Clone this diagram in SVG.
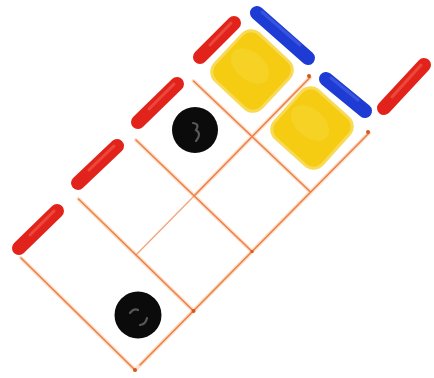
<svg xmlns="http://www.w3.org/2000/svg" width="434" height="378" viewBox="0 0 434 378">
<style>
.halo{stroke:#FCE1CC;stroke-width:4;fill:none;stroke-linecap:round}
.ln{stroke:#EE8048;stroke-width:1.6;fill:none;stroke-linecap:round}
.faint{stroke:#F4A57A;stroke-width:1.3;fill:none;stroke-linecap:round}
.dot{fill:#D2581E}
.red{stroke:#E2231B;stroke-width:14;stroke-linecap:round;fill:none}
.redhi{stroke:#F0584A;stroke-width:3;stroke-linecap:round;fill:none;opacity:0.7}
.blue{stroke:#1E3CD4;stroke-width:14;stroke-linecap:round;fill:none}
.bluehi{stroke:#4A64E6;stroke-width:3;stroke-linecap:round;fill:none;opacity:0.6}
.yel{fill:#F5CC12;stroke:#F8DA55;stroke-width:3}
.yelhi{fill:#F8D838;opacity:0.5}
.blk{fill:#0B0B0B}
.blkhi{stroke:#6A6A6A;stroke-width:2.2;fill:none;stroke-linecap:round;opacity:0.8}
</style>
<rect width="434" height="378" fill="#FFFFFF"/>
<g id="connectors">
  <g class="halo">
    <line x1="21" y1="258" x2="135" y2="370"/>
    <line x1="78.5" y1="199" x2="193.5" y2="311"/>
    <line x1="136" y1="140" x2="252" y2="251.5"/>
    <line x1="193.5" y1="81" x2="310.5" y2="192"/>
    <line x1="135" y1="370" x2="369" y2="133"/>
    <line x1="194" y1="196" x2="310" y2="77.5"/>
  </g>
  <line class="faint" x1="136" y1="255" x2="194" y2="196"/>
  <line class="ln" x1="194" y1="196" x2="310" y2="77.5"/>
  <line class="ln" x1="21" y1="258" x2="135" y2="370"/>
  <line class="ln" x1="78.5" y1="199" x2="193.5" y2="311"/>
  <line class="ln" x1="136" y1="140" x2="252" y2="251.5"/>
  <line class="ln" x1="193.5" y1="81" x2="310.5" y2="192"/>
  <line class="ln" x1="140" y1="365" x2="369" y2="133"/>
  <circle class="dot" cx="135" cy="370" r="2"/>
  <circle class="dot" cx="193.5" cy="311" r="2"/>
  <circle class="dot" cx="252" cy="251.5" r="1.6"/>
  <circle class="dot" cx="309" cy="76" r="2"/>
  <circle class="dot" cx="368" cy="132" r="2"/>
</g>
<g id="yellow1">
  <rect class="yel" x="-32" y="-32" width="64" height="64" rx="12" transform="translate(252,71) rotate(43)"/>
  <ellipse class="yelhi" cx="250" cy="66" rx="22" ry="14" transform="rotate(40 250 66)"/>
</g>
<g id="yellow2">
  <rect class="yel" x="-32" y="-32" width="64" height="64" rx="12" transform="translate(312,128) rotate(42)"/>
  <ellipse class="yelhi" cx="310" cy="123" rx="22" ry="14" transform="rotate(40 310 123)"/>
</g>
<g id="bar-red-1"><line class="red" x1="19" y1="248" x2="57" y2="211"/><line class="redhi" x1="30" y1="235" x2="54" y2="211"/></g>
<g id="bar-red-2"><line class="red" x1="78" y1="183" x2="117" y2="146"/><line class="redhi" x1="89" y1="170" x2="114" y2="146"/></g>
<g id="bar-red-3"><line class="red" x1="138" y1="122" x2="177" y2="84"/><line class="redhi" x1="149" y1="109" x2="174" y2="84"/></g>
<g id="bar-red-4"><line class="red" x1="200" y1="57" x2="234" y2="23"/><line class="redhi" x1="210" y1="45" x2="231" y2="23"/></g>
<g id="bar-blue-1"><line class="blue" x1="257" y1="13" x2="308" y2="58"/><line class="bluehi" x1="262" y1="12" x2="300" y2="45"/></g>
<g id="bar-blue-2"><line class="blue" x1="326" y1="79" x2="365" y2="111"/><line class="bluehi" x1="331" y1="78" x2="358" y2="100"/></g>
<g id="bar-red-5"><line class="red" x1="384" y1="108" x2="424" y2="65"/><line class="redhi" x1="392" y1="97" x2="421" y2="65"/></g>
<g id="circle1">
  <circle class="blk" cx="195" cy="130" r="23"/>
  <path class="blkhi" d="M193 123 Q200 124 196 130 Q202 134 196 141"/>
</g>
<g id="circle2">
  <circle class="blk" cx="138" cy="315" r="23.5"/>
  <path class="blkhi" d="M130 313 Q134 308 138 310 M140 325 Q146 324 147 318"/>
</g>
</svg>
